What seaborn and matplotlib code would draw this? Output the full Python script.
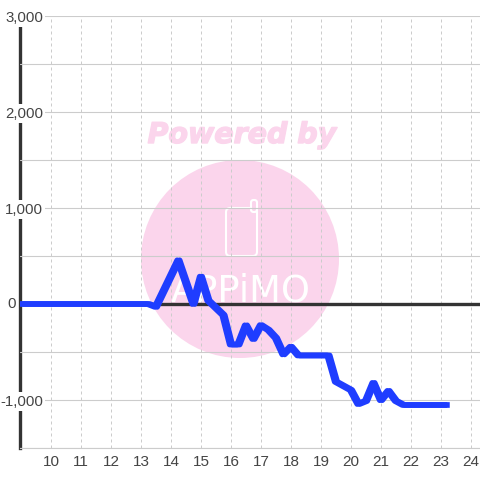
import matplotlib
matplotlib.use('Agg')
import matplotlib.pyplot as plt
import matplotlib.patheffects as pe
from matplotlib.patches import Circle, FancyBboxPatch
import pandas as pd
import seaborn as sns

# valores
horas = [9, 13.25, 13.5, 14.25, 14.75, 15, 15.25, 15.75, 16, 16.25, 16.5, 16.75, 17, 17.25,
         17.5, 17.75, 18, 18.25, 19.25, 19.5, 20, 20.25, 20.5, 20.75, 21, 21.25, 21.5, 21.75, 23.25]
saldo = [0, 0, -30, 455, 0, 285, 35, -115, -422, -422, -222, -365, -220, -270,
         -354, -525, -445, -536, -536, -810, -896, -1042, -1010, -822, -1002, -905, -1010, -1052, -1052]
x_ticks = list(range(10, 25))
y_ticks = [-1500, -1000, -500, 0, 500, 1000, 1500, 2000, 2500, 3000]
y_labels = ['', '-1,000', '', '', '', '1,000', '', '2,000', '', '3,000']

df = pd.DataFrame({'hora': horas, 'saldo': saldo})

sns.set_theme(style='white')
plt.rcParams['font.family'] = ['Liberation Sans', 'DejaVu Sans']

fig = plt.figure(figsize=(4.8, 4.8), dpi=100)
fig.patch.set_facecolor('white')
ax = fig.add_axes([20 / 480, 32 / 480, 460 / 480, 432 / 480])
ax.patch.set_alpha(0)

# marca d'agua atras do grafico
rosa = '#fbd5ec'
fig.add_artist(Circle((240 / 480, 1 - 259 / 480), 99 / 480, transform=fig.transFigure,
                      facecolor=rosa, edgecolor='none', zorder=-3))
fig.text(242 / 480, 1 - 135 / 480, 'Powered by', color=rosa, fontsize=20.5, fontweight='bold',
         fontstyle='italic', family='DejaVu Sans', ha='center', va='center', zorder=-2,
         path_effects=[pe.withStroke(linewidth=1.0, foreground=rosa)])
fig.add_artist(FancyBboxPatch((226 / 480, 1 - 256 / 480), 31 / 480, 48 / 480,
                              boxstyle='round,pad=0,rounding_size=0.009', transform=fig.transFigure,
                              facecolor='none', edgecolor='white', linewidth=1.5, zorder=-2))
fig.add_artist(FancyBboxPatch((251 / 480, 1 - 212 / 480), 6 / 480, 12 / 480,
                              boxstyle='round,pad=0,rounding_size=0.005', transform=fig.transFigure,
                              facecolor=rosa, edgecolor='white', linewidth=1.5, zorder=-2))
fig.text(241 / 480, 1 - 291 / 480, 'APPiMO', color='white', fontsize=26.5, family='Liberation Sans Narrow',
         ha='center', va='center', zorder=-2)

sns.lineplot(data=df, x='hora', y='saldo', color='#1f3dff', linewidth=4.1, ax=ax, zorder=3,
             solid_joinstyle='round', solid_capstyle='butt', errorbar=None, sort=False,
             path_effects=[pe.Stroke(offset=(-0.9, 0)), pe.Stroke(offset=(0.9, 0))])
ax.axhline(0, color='#333333', linewidth=2.4, zorder=2.6)

ax.set_xlim(8.97, 24.3)
ax.set_ylim(-1500, 3000)
ax.set_xticks(x_ticks)
ax.set_yticks(y_ticks)
ax.set_yticklabels(y_labels)
ax.set_xlabel('')
ax.set_ylabel('')

ax.set_axisbelow(False)
ax.grid(True, axis='y', color='#cccccc', linewidth=0.8)
ax.grid(True, axis='x', color='#cccccc', linewidth=0.72, linestyle=(0, (3, 3)))
ax.tick_params(axis='both', length=0, labelsize=10.8, labelcolor='#444444')
ax.tick_params(axis='x', labelsize=11, pad=5)
ax.tick_params(axis='y', pad=-16.5)
for lab in ax.get_yticklabels():
    if lab.get_text():
        lab.set_bbox(dict(facecolor='white', edgecolor='none', pad=1.5))

# o zero fica a esquerda do eixo
ax.annotate('0', xy=(0, 0), xycoords=('axes fraction', 'data'), xytext=(-2.9, 0),
            textcoords='offset points', ha='right', va='center', fontsize=10.8,
            color='#444444', annotation_clip=False)

for lado in ['top', 'right']:
    ax.spines[lado].set_visible(False)
ax.spines['bottom'].set_color('#cccccc')
ax.spines['bottom'].set_linewidth(0.8)
ax.spines['left'].set_color('#333333')
ax.spines['left'].set_linewidth(2.4)
ax.spines['left'].set_zorder(2)

fig.savefig('out.png', dpi=100)
